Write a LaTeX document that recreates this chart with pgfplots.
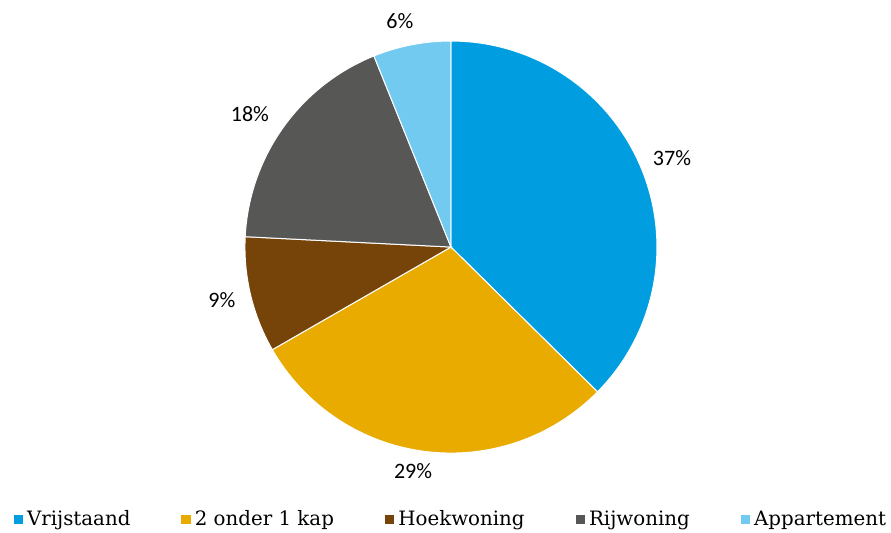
\documentclass[border=0pt]{standalone}
\usepackage{pgfplots}
\pgfplotsset{compat=1.18}
\usepackage{fontspec}
\setmainfont{DejaVu Serif}
\newfontfamily\carlito{Carlito-Regular.ttf}
\definecolor{cVrij}{HTML}{009EE0}
\definecolor{cTwee}{HTML}{E9AB00}
\definecolor{cHoek}{HTML}{764409}
\definecolor{cRij}{HTML}{575756}
\definecolor{cApp}{HTML}{73CAF0}
% shares in percent
\def\vVrij{37.4}
\def\vTwee{29.3}
\def\vHoek{9.1}
\def\vRij{18.1}
\def\vApp{6.1}
\pgfmathsetmacro{\aA}{90}
\pgfmathsetmacro{\aB}{\aA-3.6*\vVrij}
\pgfmathsetmacro{\aC}{\aB-3.6*\vTwee}
\pgfmathsetmacro{\aD}{\aC-3.6*\vHoek}
\pgfmathsetmacro{\aE}{\aD-3.6*\vRij}
\pgfmathsetmacro{\aF}{\aE-3.6*\vApp}
\begin{document}
\begin{tikzpicture}
\begin{axis}[
  scale only axis, width=445.5pt, height=266pt,
  xmin=-2.189, xmax=2.136, ymin=-1.383, ymax=1.199,
  hide axis, clip=false,
  legend columns=5,
  legend style={at={(0.506,0)}, anchor=south, draw=none, inner sep=0pt,
    font=\fontsize{9.9}{11}\selectfont,
    /tikz/every even column/.append style={column sep=23.5pt},
    nodes={inner sep=1.5pt}},
  legend image code/.code={\fill[#1] (0pt,-2.6pt) rectangle (5.2pt,2.6pt);},
  every axis plot/.append style={draw=white, line width=0.5pt},
]
\addplot[fill=cVrij, domain=\aB:\aA, samples=80] ({cos(x)},{sin(x)}) -- (0,0) -- cycle;
\addplot[fill=cTwee, domain=\aC:\aB, samples=70] ({cos(x)},{sin(x)}) -- (0,0) -- cycle;
\addplot[fill=cHoek, domain=\aD:\aC, samples=30] ({cos(x)},{sin(x)}) -- (0,0) -- cycle;
\addplot[fill=cRij, domain=\aE:\aD, samples=50] ({cos(x)},{sin(x)}) -- (0,0) -- cycle;
\addplot[fill=cApp, domain=\aF:\aE, samples=20] ({cos(x)},{sin(x)}) -- (0,0) -- cycle;
\legend{Vrijstaand, 2 onder 1 kap, Hoekwoning, Rijwoning, Appartement}
\begin{scope}[font=\carlito\fontsize{11}{13}\selectfont]
\node at (axis cs:1.073,0.432) {37\%};
\node at (axis cs:-0.184,-1.087) {29\%};
\node at (axis cs:-1.112,-0.257) {9\%};
\node at (axis cs:-0.976,0.646) {18\%};
\node at (axis cs:-0.248,1.097) {6\%};
\end{scope}
\end{axis}
\pgfresetboundingbox
\useasboundingbox (current axis.south west) rectangle (current axis.north east);
\end{tikzpicture}
\end{document}
